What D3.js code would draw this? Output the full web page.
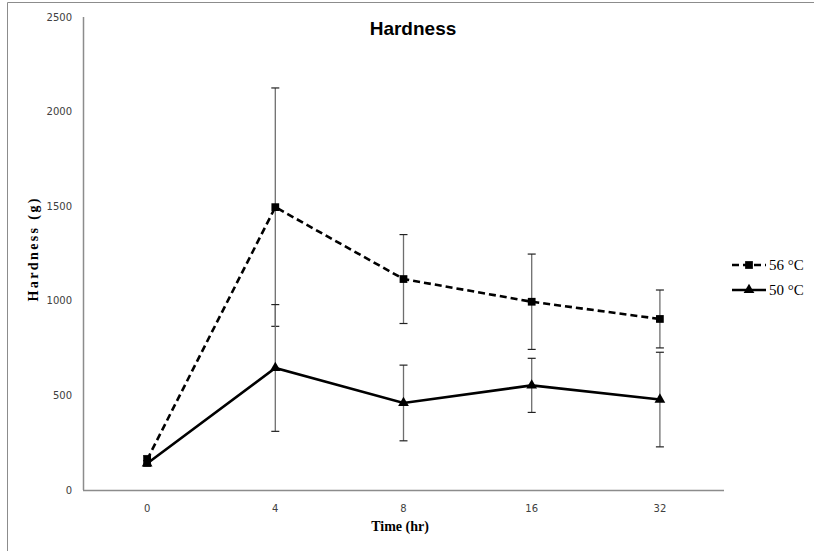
<!DOCTYPE html>
<html lang="en">
<head>
    <meta charset="UTF-8">
    <title>Hardness</title>
    <style>
        body { margin: 0; background: #fff; }
        svg { display: block; }
        .tick-label { font-family: 'DejaVu Sans', Verdana, sans-serif; font-size: 10px; fill: #404040; }
        .axis-title { font-family: 'Liberation Serif', 'Times New Roman', serif; font-weight: bold; font-size: 14px; fill: #000; }
        .legend-text { font-family: 'Liberation Serif', 'Times New Roman', serif; font-size: 15px; fill: #000; }
    </style>
    <script src="https://d3js.org/d3.v7.min.js"></script>
</head>
<body>
<div id="chart"></div>
<script>
    // data
    const times = ["0", "4", "8", "16", "32"];
    const mean56 = [160, 1495, 1115, 995, 904];
    const err56 = [22, 630, 235, 252, 153];
    const mean50 = [140, 645, 460, 553, 478];
    const err50 = [15, 335, 200, 143, 250];
    const yTicks = [0, 500, 1000, 1500, 2000, 2500];

    const width = 814, height = 551;
    const plotLeft = 83, plotRight = 724, plotTop = 17, plotBottom = 490;

    const svg = d3.select("#chart").append("svg")
        .attr("width", width)
        .attr("height", height);

    // chart frame (only left and top edges visible in the picture)
    svg.append("path")
        .attr("d", "M7.5," + height + " V2.5 H" + width)
        .attr("fill", "none")
        .attr("stroke", "#8c8c8c")
        .attr("stroke-width", 1);

    const x = d3.scaleBand().domain(times).range([plotLeft, plotRight]);
    const y = d3.scaleLinear().domain([0, 2500]).range([plotBottom, plotTop]);

    // axes lines
    svg.append("line")
        .attr("x1", plotLeft + 0.5).attr("x2", plotLeft + 0.5)
        .attr("y1", y(2500)).attr("y2", y(0))
        .attr("stroke", "#8c8c8c").attr("stroke-width", 1.5);
    svg.append("line")
        .attr("x1", plotLeft).attr("x2", plotRight)
        .attr("y1", y(0) + 0.5).attr("y2", y(0) + 0.5)
        .attr("stroke", "#8c8c8c").attr("stroke-width", 1.5);

    svg.selectAll(".ylab")
        .data(yTicks)
        .enter().append("text")
        .attr("class", "tick-label")
        .attr("x", 72)
        .attr("y", d => y(d) + 3.5)
        .attr("text-anchor", "end")
        .text(d => d);

    svg.selectAll(".xlab")
        .data(times)
        .enter().append("text")
        .attr("class", "tick-label")
        .attr("x", d => x(d) + x.bandwidth() / 2)
        .attr("y", 512)
        .attr("text-anchor", "middle")
        .text(d => d);

    // titles
    svg.append("text")
        .attr("x", 413).attr("y", 35)
        .attr("text-anchor", "middle")
        .attr("font-family", "'Liberation Sans', Arial, sans-serif")
        .attr("font-weight", "bold")
        .attr("font-size", 19)
        .text("Hardness");

    svg.append("text")
        .attr("class", "axis-title")
        .attr("x", 400).attr("y", 531)
        .attr("text-anchor", "middle")
        .text("Time (hr)");

    svg.append("text")
        .attr("class", "axis-title")
        .attr("transform", "translate(38,250) rotate(-90)")
        .attr("text-anchor", "middle")
        .attr("textLength", 103)
        .text("Hardness (g)");

    const cx = i => x(times[i]) + x.bandwidth() / 2;

    function errorBars(means, errs, color) {
        const g = svg.append("g");
        means.forEach((m, i) => {
            const xc = cx(i);
            g.append("line")
                .attr("x1", xc).attr("x2", xc)
                .attr("y1", y(m + errs[i])).attr("y2", y(m - errs[i]))
                .attr("stroke", color).attr("stroke-width", 1.3);
            [m + errs[i], m - errs[i]].forEach(v => {
                g.append("line")
                    .attr("x1", xc - 4).attr("x2", xc + 4)
                    .attr("y1", y(v)).attr("y2", y(v))
                    .attr("stroke", "#222").attr("stroke-width", 1.2);
            });
        });
    }

    errorBars(mean56, err56, "#6e6e6e");
    errorBars(mean50, err50, "#6e6e6e");

    const line = d3.line()
        .x((d, i) => cx(i))
        .y(d => y(d));

    svg.append("path")
        .datum(mean56)
        .attr("d", line)
        .attr("fill", "none")
        .attr("stroke", "#000")
        .attr("stroke-width", 2.6)
        .attr("stroke-dasharray", "7,4");

    svg.append("path")
        .datum(mean50)
        .attr("d", line)
        .attr("fill", "none")
        .attr("stroke", "#000")
        .attr("stroke-width", 2.6);

    const square = d3.symbol().type(d3.symbolSquare).size(60);
    const triangle = d3.symbol().type(d3.symbolTriangle).size(50);

    svg.selectAll(".m56")
        .data(mean56)
        .enter().append("path")
        .attr("d", square)
        .attr("transform", (d, i) => "translate(" + cx(i) + "," + y(d) + ")")
        .attr("fill", "#000");

    svg.selectAll(".m50")
        .data(mean50)
        .enter().append("path")
        .attr("d", triangle)
        .attr("transform", (d, i) => "translate(" + cx(i) + "," + y(d) + ")")
        .attr("fill", "#000");

    // legend
    const legend = [
        { label: "56 \u00B0C", dash: "7,4", sym: square, y: 265 },
        { label: "50 \u00B0C", dash: null, sym: triangle, y: 290 }
    ];
    legend.forEach(l => {
        svg.append("line")
            .attr("x1", 732).attr("x2", 766)
            .attr("y1", l.y).attr("y2", l.y)
            .attr("stroke", "#000").attr("stroke-width", 2.6)
            .attr("stroke-dasharray", l.dash);
        svg.append("path")
            .attr("d", l.sym)
            .attr("transform", "translate(749," + l.y + ")")
            .attr("fill", "#000");
        svg.append("text")
            .attr("class", "legend-text")
            .attr("x", 769).attr("y", l.y + 5)
            .text(l.label);
    });
</script>
</body>
</html>
